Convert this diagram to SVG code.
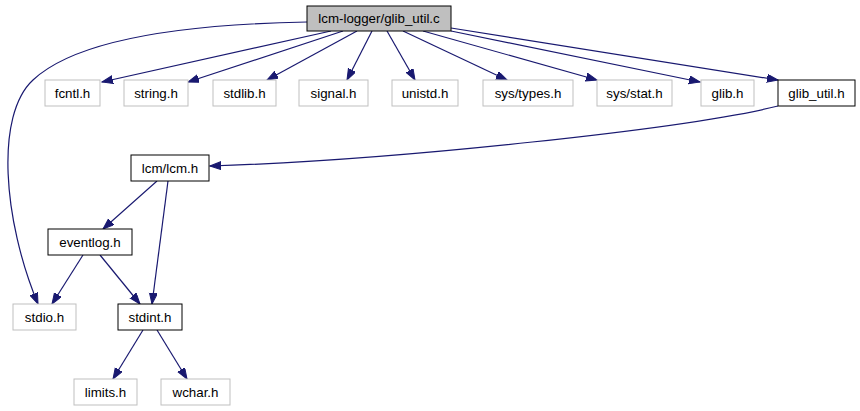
<svg xmlns="http://www.w3.org/2000/svg" width="860" height="411" viewBox="0 0 860 411">
<defs>
<marker id="ah" markerUnits="userSpaceOnUse" markerWidth="12" markerHeight="9" refX="11" refY="4" orient="auto">
<path d="M0,0 L11,4 L0,8 z" fill="#191970" stroke="#191970" stroke-width="1"/>
</marker>
<style>
rect{fill:#ffffff;stroke:#bfbfbf;stroke-width:1}
.b rect{stroke:#000000}
.root rect{fill:#bfbfbf;stroke:#000000}
text{font-family:"Liberation Sans",Arial,sans-serif;font-size:13.33px;fill:#000000;text-anchor:middle}
#edges path{fill:none;stroke:#191970;stroke-width:1.2;marker-end:url(#ah)}
</style>
</defs>
<rect x="0" y="0" width="860" height="411" style="fill:#ffffff;stroke:none"/>
<g id="edges">
<path d="M307,22 C200,24 80,36 33,80 C-5,115 3,220 38,304"/>
<path d="M331,31 L102,82"/>
<path d="M343,31 L188,82"/>
<path d="M357,31 L267,80"/>
<path d="M372,31 L347,80"/>
<path d="M387,31 L415,80"/>
<path d="M403,31 L507,80"/>
<path d="M423,31 L597,80"/>
<path d="M451,31 L700,82"/>
<path d="M451,28 L778,80"/>
<path d="M778,106 C690,128 400,160 210,166"/>
<path d="M157,181 L103,229"/>
<path d="M168,181 L152,304"/>
<path d="M83,255 L52,304"/>
<path d="M100,255 L140,304"/>
<path d="M143,330 L113,379"/>
<path d="M157,330 L187,379"/>
</g>
<g id="root" class="root"><rect x="307" y="6" width="144" height="25"/><text x="379" y="23">lcm-logger/glib_util.c</text></g>
<g id="fcntl"><rect x="45" y="80" width="55" height="26"/><text x="72.5" y="97.5">fcntl.h</text></g>
<g id="string"><rect x="124" y="80" width="64" height="26"/><text x="156" y="97.5">string.h</text></g>
<g id="stdlib"><rect x="213" y="80" width="63" height="26"/><text x="244.5" y="97.5">stdlib.h</text></g>
<g id="signal"><rect x="299" y="80" width="69" height="26"/><text x="333.5" y="97.5">signal.h</text></g>
<g id="unistd"><rect x="392" y="80" width="66" height="26"/><text x="425" y="97.5">unistd.h</text></g>
<g id="systypes"><rect x="483" y="80" width="90" height="26"/><text x="528" y="97.5">sys/types.h</text></g>
<g id="sysstat"><rect x="597" y="80" width="75" height="26"/><text x="634.5" y="97.5">sys/stat.h</text></g>
<g id="glib"><rect x="701" y="80" width="53" height="26"/><text x="727.5" y="97.5">glib.h</text></g>
<g id="glibutil" class="b"><rect x="778" y="80" width="77" height="26"/><text x="816.5" y="97.5">glib_util.h</text></g>
<g id="lcm" class="b"><rect x="131" y="155" width="78" height="26"/><text x="170" y="172.5">lcm/lcm.h</text></g>
<g id="eventlog" class="b"><rect x="48" y="229" width="84" height="26"/><text x="90" y="246.5">eventlog.h</text></g>
<g id="stdio"><rect x="13" y="304" width="63" height="26"/><text x="44.5" y="321.5">stdio.h</text></g>
<g id="stdint" class="b"><rect x="118" y="304" width="64" height="26"/><text x="150" y="321.5">stdint.h</text></g>
<g id="limits"><rect x="74" y="379" width="63" height="26"/><text x="105.5" y="396.5">limits.h</text></g>
<g id="wchar"><rect x="161" y="379" width="69" height="26"/><text x="195.5" y="396.5">wchar.h</text></g>
</svg>
